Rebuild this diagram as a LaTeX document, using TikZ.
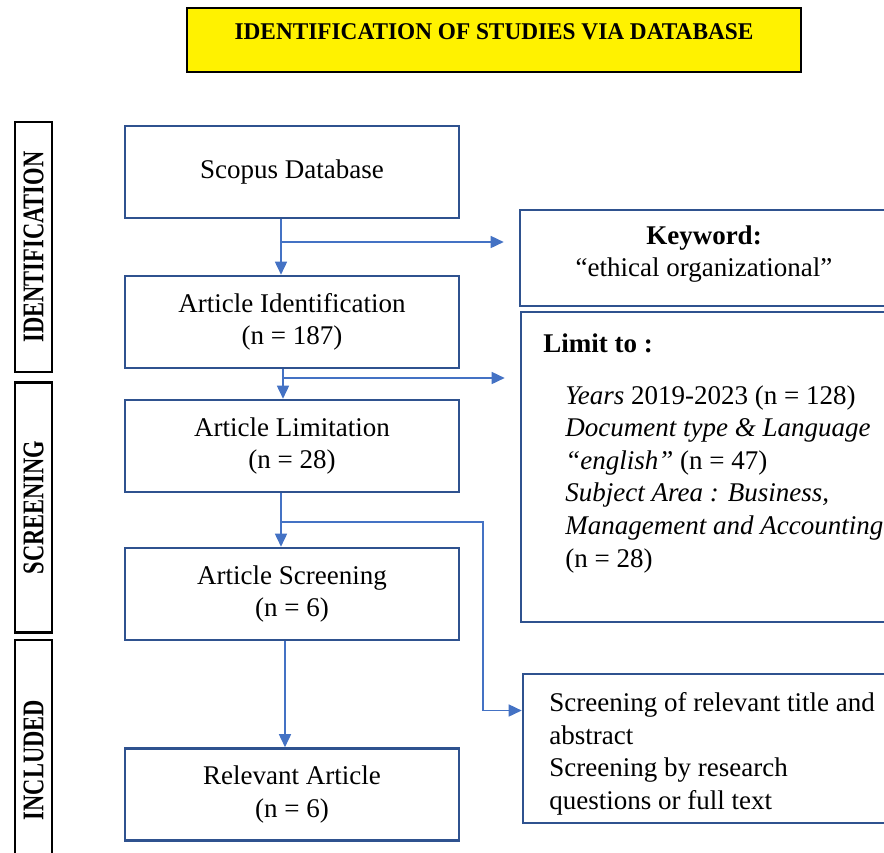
\documentclass[tikz,border=0pt]{standalone}
\usepackage{fontspec}
\setmainfont{Liberation Serif}
\usepackage{xcolor}
\usetikzlibrary{arrows.meta,positioning,calc}
\definecolor{boxblue}{RGB}{47,82,143}
\definecolor{arrblue}{RGB}{68,114,196}

\begin{document}
\begin{tikzpicture}[x=0.5pt, y=-0.5pt, font=\fontsize{13.5}{16.3}\selectfont,
  box/.style={draw=boxblue, line width=1.3pt, align=center, minimum width=167pt, minimum height=46pt, inner sep=2pt, text depth=3pt},
  sidebox/.style={draw=black, line width=1.3pt, minimum width=18.5pt, minimum height=125pt, inner sep=0pt},
  sidelbl/.style={rotate=90, font=\fontsize{15}{15}\bfseries\selectfont, inner sep=0pt},
  arr/.style={-{Triangle[length=6.5pt, width=6pt]}, draw=arrblue, line width=0.8pt}]
  \useasboundingbox (0,0) rectangle (884,852);
  % heading
  \node[draw=black, line width=1pt, fill=yellow, minimum width=307pt, minimum height=32pt] (headbox) at (494,40) {};
  \node[font=\fontsize{12}{14}\bfseries\selectfont] (head) at (494,32) {\scalebox{0.97}[1]{IDENTIFICATION OF STUDIES VIA DATABASE}};
  % phases on the left
  \node[sidebox] (sid) at (33.5,247) {};
  \node[sidelbl] (lid) at (sid) {\scalebox{0.75}[1]{IDENTIFICATION}};
  \node[sidebox] (ssc) at (33.5,507.5) {};
  \node[sidelbl] (lsc) at (ssc) {\scalebox{0.75}[1]{SCREENING}};
  \node[sidebox] (sin) at (33.5,765) {};
  \node[sidelbl] (lin) at (33.5,760) {\scalebox{0.75}[1]{INCLUDED}};
  % main column
  \node[box] (scopus) at (292,172) {Scopus Database};
  \node[box] (artid) at (292,322) {Article Identification\\(n = 187)};
  \node[box] (artlim) at (292,446) {Article Limitation\\(n = 28)};
  \node[box] (artscr) at (292,594) {Article Screening\\(n = 6)};
  \node[box] (relart) at (292,794.5) {Relevant Article\\(n = 6)};
  % right column
  \node[box, minimum width=184pt, minimum height=48pt] (kw) at (704,258) {};
  \node[align=center] (kwtxt) at (704,254) {\textbf{Keyword:}\\``ethical organizational''};
  \node[box, minimum width=183.5pt, minimum height=155pt] (lim) at (704.5,467) {};
  \node[anchor=west, inner sep=0pt] (limhead) at (543,343) {\textbf{Limit to :}};
  \node[anchor=north west, align=left, inner sep=0pt] (limlist) at (565,385)
    {\textit{Years} 2019-2023 (n = 128)\\
     \textit{Document type \& Language}\\
     \textit{``english''} (n = 47)\\
     \textit{Subject Area : Business,}\\
     \textit{Management and Accounting}\\
     (n = 28)};
  \node[box, minimum width=182.5pt, minimum height=74.5pt] (scrbox) at (705.5,748.5) {};
  \node[anchor=west, align=left, inner sep=0pt] (scrtxt) at (549,754)
    {Screening of relevant title and\\abstract\\Screening by research\\questions or full text};
  % connectors
  \coordinate (j1) at (281,242);
  \coordinate (j2) at (283,378);
  \coordinate (j3) at (281,522);
  \coordinate (bend) at (483,522);
  \draw[arr] ([xshift=-5.5pt]scopus.south) -- ([xshift=-5.5pt]scopus.south |- artid.north);
  \draw[arr, shorten >=7.5pt] (j1) -- (j1 -| kw.west);
  \draw[arr] ([xshift=-4.5pt]artid.south) -- ([xshift=-4.5pt]artid.south |- artlim.north);
  \draw[arr, shorten >=7.5pt] (j2) -- (j2 -| lim.west);
  \draw[arr] ([xshift=-5.5pt]artlim.south) -- ([xshift=-5.5pt]artlim.south |- artscr.north);
  \draw[arr] (j3) -- (bend) |- ([yshift=19pt]scrbox.west);
  \draw[arr] ([xshift=-3.5pt]artscr.south) -- ([xshift=-3.5pt]artscr.south |- relart.north);
\end{tikzpicture}
\end{document}
